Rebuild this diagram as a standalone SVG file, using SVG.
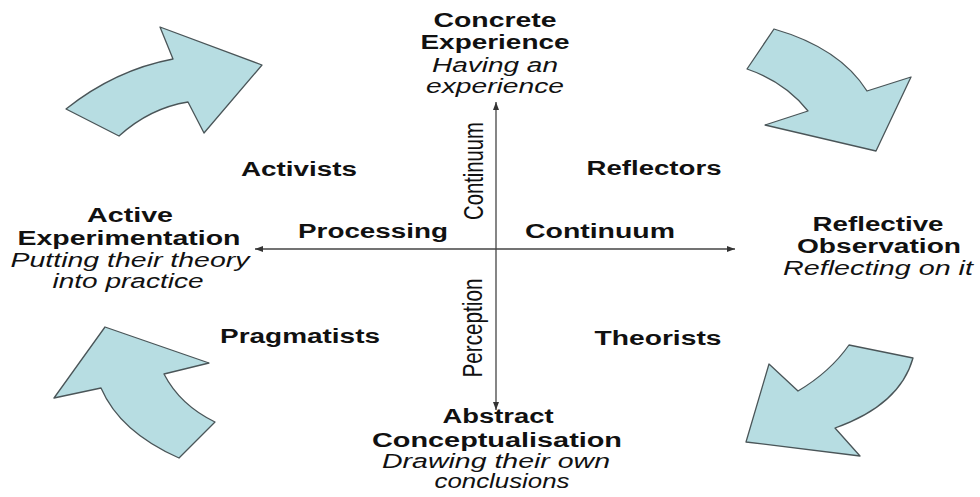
<svg xmlns="http://www.w3.org/2000/svg" width="980" height="497" viewBox="0 0 980 497">
<style>
.b{font-family:"Liberation Sans",Arial,sans-serif;font-weight:bold;font-size:20px;fill:#111;text-anchor:middle}
.i{font-family:"Liberation Sans",Arial,sans-serif;font-style:italic;font-size:19.5px;fill:#111;text-anchor:middle}
.v{font-family:"Liberation Sans",Arial,sans-serif;font-size:19px;fill:#111;text-anchor:middle}
.arr{fill:#b7dde2;stroke:#4a5558;stroke-width:1.3;stroke-linejoin:round}
.ax{stroke:#444;stroke-width:1.3;fill:none}
</style>
<defs>
<marker id="ah" viewBox="0 0 10 10" refX="10" refY="5" markerWidth="8" markerHeight="6" markerUnits="userSpaceOnUse" orient="auto" preserveAspectRatio="none">
<path d="M0,0 L10,5 L0,10 z" fill="#333"/>
</marker>
</defs>
<rect width="980" height="497" fill="#fff"/>

<g id="arrows">
<path id="arrow-tl" class="arr" d="M66,109 Q115,70 173,59 L160,27 L262,65 L204,133 L188,102 Q150,108 119,136 Z"/>
<path id="arrow-tr" class="arr" d="M774,29 Q840,48 867,91 L911,77 L876,151 L765,125 L808,111 Q785,82 747,69 Z"/>
<path id="arrow-br" class="arr" d="M913,358 Q900,405 835,428 L860,456 L746,442 L769,364 L798,391 Q830,372 849,345 Z"/>
<path id="arrow-bl" class="arr" d="M179,458 Q120,432 101,388 L54,398 L105,327 L209,363 L164,374 Q180,405 215,422 Z"/>
</g>

<g id="connectors">
<line class="ax" x1="496" y1="249" x2="496" y2="102" marker-end="url(#ah)"/>
<line class="ax" x1="496" y1="249" x2="496" y2="410" marker-end="url(#ah)"/>
<line class="ax" x1="496" y1="249" x2="255" y2="249" marker-end="url(#ah)"/>
<line class="ax" x1="496" y1="249" x2="735" y2="249" marker-end="url(#ah)"/>
</g>

<g id="axis-labels">
<text class="b" x="373" y="238" textLength="150" lengthAdjust="spacingAndGlyphs">Processing</text>
<text class="b" x="600" y="238" textLength="150" lengthAdjust="spacingAndGlyphs">Continuum</text>
<text class="v" transform="translate(483,171) scale(1.5,1) rotate(-90)" textLength="98" lengthAdjust="spacingAndGlyphs">Continuum</text>
<text class="v" transform="translate(482,328) scale(1.5,1) rotate(-90)" textLength="99" lengthAdjust="spacingAndGlyphs">Perception</text>
</g>

<g id="concrete-experience">
<text class="b" x="495" y="27" textLength="123" lengthAdjust="spacingAndGlyphs">Concrete</text>
<text class="b" x="495" y="49" textLength="149" lengthAdjust="spacingAndGlyphs">Experience</text>
<text class="i" x="495" y="72" textLength="126" lengthAdjust="spacingAndGlyphs">Having an</text>
<text class="i" x="495" y="93" textLength="138" lengthAdjust="spacingAndGlyphs">experience</text>
</g>

<g id="reflective-observation">
<text class="b" x="878" y="231" textLength="131" lengthAdjust="spacingAndGlyphs">Reflective</text>
<text class="b" x="879" y="253" textLength="164" lengthAdjust="spacingAndGlyphs">Observation</text>
<text class="i" x="878" y="275" textLength="190" lengthAdjust="spacingAndGlyphs">Reflecting on it</text>
</g>

<g id="abstract-conceptualisation">
<text class="b" x="498" y="423" textLength="111" lengthAdjust="spacingAndGlyphs">Abstract</text>
<text class="b" x="497" y="447" textLength="250" lengthAdjust="spacingAndGlyphs">Conceptualisation</text>
<text class="i" x="496" y="468" textLength="228" lengthAdjust="spacingAndGlyphs">Drawing their own</text>
<text class="i" x="502" y="488" textLength="135" lengthAdjust="spacingAndGlyphs">conclusions</text>
</g>

<g id="active-experimentation">
<text class="b" x="130" y="222" textLength="86" lengthAdjust="spacingAndGlyphs">Active</text>
<text class="b" x="129" y="245" textLength="223" lengthAdjust="spacingAndGlyphs">Experimentation</text>
<text class="i" x="130" y="267" textLength="239" lengthAdjust="spacingAndGlyphs">Putting their theory</text>
<text class="i" x="128" y="288" textLength="151" lengthAdjust="spacingAndGlyphs">into practice</text>
</g>

<g id="activists"><text class="b" x="299" y="176" textLength="116" lengthAdjust="spacingAndGlyphs">Activists</text></g>
<g id="reflectors"><text class="b" x="654" y="175" textLength="135" lengthAdjust="spacingAndGlyphs">Reflectors</text></g>
<g id="pragmatists"><text class="b" x="300" y="343" textLength="160" lengthAdjust="spacingAndGlyphs">Pragmatists</text></g>
<g id="theorists"><text class="b" x="658" y="345" textLength="127" lengthAdjust="spacingAndGlyphs">Theorists</text></g>
</svg>
